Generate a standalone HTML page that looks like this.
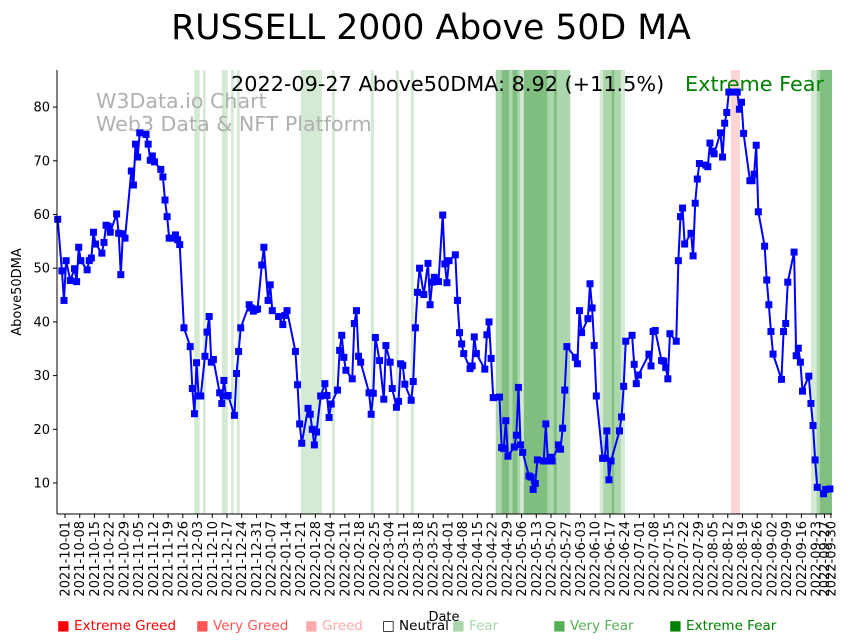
<!DOCTYPE html>
<html><head><meta charset="utf-8"><style>
body{margin:0;background:#fff;}
svg{display:block;font-family:"DejaVu Sans","Liberation Sans",sans-serif;}
</style></head><body>
<svg id="chart" width="852" height="642" viewBox="0 0 852 642">
<text x="431" y="39" font-size="34.7" text-anchor="middle" fill="#000">RUSSELL 2000 Above 50D MA</text>
<g id="bands"></g>
<text x="96" y="108" font-size="20.6" fill="#b0b0b0">W3Data.io Chart</text>
<text x="96" y="131" font-size="20.6" fill="#b0b0b0">Web3 Data &amp; NFT Platform</text>
<text x="231" y="91" font-size="20.8" fill="#000">2022-09-27 Above50DMA: 8.92 (+11.5%)</text>
<text x="685" y="91" font-size="20.8" fill="#008000">Extreme Fear</text>
<g id="series"></g>
<g id="axes"></g>
<text x="444" y="621" font-size="13" text-anchor="middle">Date</text>
<text transform="translate(21,292) rotate(-90)" font-size="13" text-anchor="middle">Above50DMA</text>
<g font-size="13.5">
<text x="57" y="630" fill="#ff0000">■ Extreme Greed</text>
<text x="196" y="630" fill="#ff5555">■ Very Greed</text>
<text x="305" y="630" fill="#ffaaaa">■ Greed</text>
<text x="382" y="630" fill="#000">□ Neutral</text>
<text x="452" y="630" fill="#aad5aa">■ Fear</text>
<text x="553" y="630" fill="#55b055">■ Very Fear</text>
<text x="669" y="630" fill="#008000">■ Extreme Fear</text>
</g>
</svg>
<script>
// days since 2021-10-01
const days = [-3,-1,0,1,3,5,6,7,8,11,12,13,14,15,18,19,20,21,22,25,26,27,28,29,32,33,34,35,36,39,40,41,42,43,46,47,48,49,50,51,53,54,55,57,60,61,62,63,64,65,67,68,69,70,71,74,75,76,77,78,81,82,83,84,88,89,90,91,92,94,95,97,98,99,102,104,105,106,110,111,112,113,116,117,118,119,120,122,124,125,126,127,130,131,132,133,134,137,138,139,140,141,145,146,147,148,150,152,153,155,156,158,159,160,161,162,165,166,167,168,169,171,173,174,175,176,178,180,181,182,183,186,187,188,189,190,193,194,195,196,200,201,202,203,204,207,208,209,210,211,214,215,216,217,218,221,222,223,224,225,228,229,230,231,232,235,236,237,238,239,243,244,245,246,249,250,251,252,253,256,257,258,259,260,264,265,266,267,270,271,272,273,278,279,280,281,284,285,286,287,288,291,292,293,294,295,298,299,300,301,302,305,306,307,308,309,312,313,314,315,316,318,320,321,322,323,326,327,328,329,330,333,334,335,336,337,341,342,343,344,347,348,349,350,351,354,355,356,357,358,361,362,364];
const values = [59.1,49.5,44.0,51.4,47.7,49.9,47.5,53.9,51.4,49.7,51.4,51.9,56.7,54.5,52.8,54.8,58.0,57.8,56.7,60.1,56.5,48.8,56.4,55.6,68.1,65.5,73.1,70.7,75.2,74.9,73.1,70.1,70.9,69.8,68.4,67.0,62.7,59.6,55.6,55.6,56.2,55.3,54.4,38.9,35.4,27.6,22.9,32.4,26.2,26.2,33.6,38.1,41.0,32.5,33.0,26.8,24.8,29.1,26.2,26.3,22.6,30.4,34.5,38.9,43.2,42.6,42.0,42.3,42.4,50.6,53.9,44.0,46.9,42.1,41.0,39.5,41.2,42.1,34.5,28.3,21.0,17.4,23.9,22.8,20.0,17.1,19.5,26.2,28.5,26.3,22.2,24.7,27.3,34.7,37.5,33.4,31.0,29.4,39.7,42.1,33.6,32.5,26.8,22.8,26.7,37.1,32.8,25.6,35.6,32.5,27.6,24.1,25.2,32.2,31.9,28.4,25.4,28.9,38.9,45.5,50.0,45.1,50.9,43.2,47.4,48.3,47.5,59.9,50.8,47.3,51.4,52.5,44.0,38.0,35.9,34.1,31.3,31.8,37.2,34.1,31.2,37.6,40.0,33.2,25.9,26.0,16.6,16.4,21.6,15.0,16.7,18.9,27.8,17.1,15.7,11.3,11.1,8.8,9.9,14.3,14.1,21.0,14.1,14.8,14.1,17.1,16.3,20.2,27.3,35.4,33.4,32.2,42.1,38.0,40.6,47.1,42.6,35.6,26.2,14.6,14.6,19.7,10.6,14.1,19.7,22.3,28.0,36.4,37.5,32.1,28.5,30.1,34.0,31.8,38.2,38.4,32.8,32.7,31.5,29.4,37.8,36.4,51.4,59.6,61.2,54.5,56.5,52.3,62.1,66.6,69.5,69.2,68.9,73.3,71.8,71.3,75.2,70.7,77.0,79.0,82.8,82.8,82.8,79.6,80.9,75.1,66.3,66.3,67.5,72.9,60.5,54.1,47.8,43.2,38.2,34.0,29.3,38.2,39.7,47.4,53.0,33.7,35.1,32.5,27.1,29.9,24.8,20.7,14.3,9.2,8.0,8.8,8.9];
const bandStart = [61.9,66.1,75,79.4,82.2,112.5,127.4,145.8,157.8,164.8,205.2,208,211.5,213.1,215.6,216.9,218.5,229.9,232.7,234.3,254.6,256.2,260.3,261.6,264.7,317,355,357.7,359.3];
const bandEnd   = [64.5,67.3,77.8,80.7,83.5,122.6,128.7,147.3,159.1,166.3,208,211.5,213.1,215.6,216.9,218.5,229.9,232.7,234.3,240.6,256.2,260.3,261.6,264.7,266.6,321.3,357.7,359.3,365];
const bandLevel = ["fear","fear","fear","fear","fear","fear","fear","fear","fear","fear","veryfear","extremefear","veryfear","extremefear","veryfear","fear","extremefear","veryfear","extremefear","veryfear","fear","veryfear","extremefear","veryfear","fear","extremegreed","fear","veryfear","extremefear"];
const yTicks = [10,20,30,40,50,60,70,80];

const NS = "http://www.w3.org/2000/svg";
const X0 = 57, X1 = 832, Y0 = 70, Y1 = 514;
const x = d => 64 + d * 2.104;
const y = v => 483 - (v - 10) * 5.37;
const bandColor = {fear:"#d4ead4", veryfear:"#acd6ac", extremefear:"#80bf80", extremegreed:"#fdd5d5"};
function mk(tag, attrs, parent){const e=document.createElementNS(NS,tag);for(const k in attrs)e.setAttribute(k,attrs[k]);parent.appendChild(e);return e;}

const bands = document.getElementById('bands');
bandStart.forEach((s,i)=>{
  const r = mk('rect',{x:x(s),y:Y0,width:Math.max(0,Math.min(x(bandEnd[i]),X1)-x(s)),height:Y1-Y0,fill:bandColor[bandLevel[i]]},bands);
  
  
});

const series = document.getElementById('series');
const line = mk('polyline',{points:days.map((d,i)=>x(d)+','+y(values[i])).join(' '),fill:'none',stroke:'#0000ff','stroke-width':2},series);


days.forEach((d,i)=>{
  const m = mk('rect',{x:x(d)-3.5,y:y(values[i])-3.5,width:7,height:7,fill:'#0000ff'},series);
  
  
});

const axes = document.getElementById('axes');
mk('line',{x1:X0,y1:Y0,x2:X0,y2:Y1,stroke:'#000','stroke-width':1},axes);
mk('line',{x1:X0,y1:Y1,x2:X1,y2:Y1,stroke:'#000','stroke-width':1},axes);
yTicks.forEach(v=>{
  mk('line',{x1:X0-4,y1:y(v),x2:X0,y2:y(v),stroke:'#000'},axes);
  const t = mk('text',{x:X0-7,y:y(v)+4.5,'font-size':13,'text-anchor':'end'},axes);
  t.textContent = v;
  
  
});
const start = new Date(Date.UTC(2021,9,1));
const tickDays = [];
for(let d=0; d<=357; d+=7) tickDays.push(d);
tickDays.push(361, 364);
tickDays.forEach(d=>{
  const xx = x(d)+1;
  mk('line',{x1:xx,y1:Y1,x2:xx,y2:Y1+4,stroke:'#000'},axes);
  const dt = new Date(start.getTime()+d*86400000);
  const t = mk('text',{transform:`translate(${xx+4.5},${Y1+7}) rotate(-90)`,'font-size':13,'text-anchor':'end'},axes);
  t.textContent = dt.toISOString().slice(0,10);
  
  
});
</script>
</body></html>
